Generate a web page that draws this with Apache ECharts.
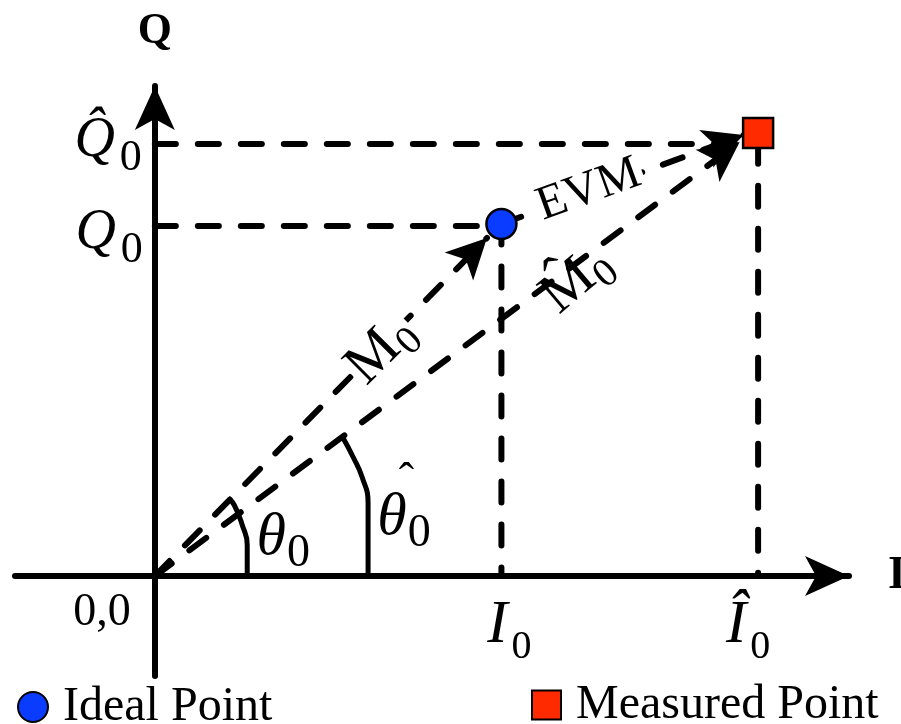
<!DOCTYPE html>
<html><head><meta charset="utf-8">
<script src="https://cdn.jsdelivr.net/npm/echarts@6/dist/echarts.min.js"></script>
<style>html,body{margin:0;padding:0;background:#fff}#c{width:901px;height:724px}</style>
</head><body><div id="c"></div>
<script>
const SERIF = "'Liberation Serif', 'Times New Roman', serif";

// ---- data (axis units) ----
const idealPoint = [3.47, 3.52];          // (I0, Q0) blue circle
const measuredPoint = [6.04, 4.43];       // (Î0, Q̂0) red square
const iTickValues = [3.47, 6.04];         // I0, Î0
const qTickValues = [3.50, 4.32];         // Q0, Q̂0
const iTickTexts = ['{it|I}{is|0}', '{it|Î}{is|0}'];
const qTickTexts = ['{qt|Q}{qs|0}', '{qt|Q\u0302}{qs|0}'];
const idealGuide = [[0, 3.50], [3.47, 3.50], [3.47, 0]];
const measuredGuide = [[0, 4.32], [6.04, 4.32], [6.04, 0]];
const vectorM0 = [[0, 0], [3.325, 3.38]];
const vectorM0hat = [[0, 0], [5.855, 4.34]];
const vectorEVM = [[3.47, 3.52], [5.895, 4.41]];
const theta0Arc = [[0.925, 0], [0.925, 0.31], [0.875, 0.51], [0.795, 0.71], [0.735, 0.78]];
const thetaHatArc = [[2.135, 0], [2.135, 0.73], [2.075, 0.99], [1.985, 1.19], [1.885, 1.38]];
const seriesNames = ['Ideal Point', 'Measured Point'];

const dash = { color: '#000', width: 6, type: [21, 22], cap: 'round' };

const rich = {
  it: { fontFamily: SERIF, fontStyle: 'italic', fontSize: 61, lineHeight: 61, verticalAlign: 'top', color: '#000' },
  is: { fontFamily: SERIF, fontSize: 40, lineHeight: 40, verticalAlign: 'top', padding: [32, 0, 0, 4], color: '#000' },
  qt: { fontFamily: SERIF, fontStyle: 'italic', fontSize: 56, lineHeight: 56, verticalAlign: 'top', color: '#000' },
  qs: { fontFamily: SERIF, fontSize: 44, lineHeight: 44, verticalAlign: 'top', padding: [23, 0, 0, 5], color: '#000' },
  th: { fontFamily: SERIF, fontStyle: 'italic', fontSize: 60, lineHeight: 60, verticalAlign: 'top', color: '#000' },
  ts: { fontFamily: SERIF, fontSize: 46, lineHeight: 46, verticalAlign: 'top', padding: [22, 0, 0, 1], color: '#000' },
  hat: { fontFamily: SERIF, fontSize: 46, lineHeight: 46, color: '#000' },
  m: { fontFamily: SERIF, fontSize: 58, lineHeight: 58, verticalAlign: 'top', color: '#000' },
  ms: { fontFamily: SERIF, fontSize: 40, lineHeight: 40, verticalAlign: 'top', padding: [24, 0, 0, 1], color: '#000' },
  e: { fontFamily: SERIF, fontSize: 48, lineHeight: 48, color: '#000' },
  o: { fontFamily: SERIF, fontSize: 46, lineHeight: 46, color: '#000' }
};

function lbl(value, text, extra) {
  return { value: value, label: Object.assign({ show: true, formatter: text, rich: rich, position: 'inside', color: '#000', opacity: 1 }, extra) };
}

const labelData = [
  lbl([iTickValues[0], 0], iTickTexts[0], { position: 'bottom', distance: 19, offset: [8, 0] }),
  lbl([iTickValues[1], 0], iTickTexts[1], { position: 'bottom', distance: 19, offset: [-10, 0] }),
  lbl([0, qTickValues[0]], qTickTexts[0], { position: 'left', distance: 12, offset: [0, 7] }),
  lbl([0, qTickValues[1]], qTickTexts[1], { position: 'left', distance: 13, offset: [0, -3] }),
  lbl([0, 0], '{o|0,0}', { position: 'left', distance: 24, offset: [0, 37] }),
  lbl([1.285, 0.375], '{th|θ}{ts|0}', {}),
  lbl([2.495, 0.575], '{th|θ}{ts|0}', {}),
  lbl([2.52, 0.93], '{hat|ˆ}', {}),
  lbl([2.265, 2.26], '{m|M}{ms|0}', { rotate: 45, backgroundColor: '#fff', padding: [0, 2] }),
  lbl([4.225, 2.96], '{m|M\u0302}{ms|0}', { rotate: 40 }),
  lbl([4.345, 3.86], '{e|EVM}', { rotate: 20, backgroundColor: '#fff', padding: [0, 3] })
];

const chart = echarts.init(document.getElementById('c'), null, { renderer: 'canvas' });
chart.setOption({
  animation: false,
  backgroundColor: '#fff',
  grid: { left: 15, right: 52, top: 86, bottom: 48, containLabel: false, outerBoundsMode: 'none' },
  xAxis: {
    type: 'value', min: -1.4, max: 6.95,
    name: 'I', nameLocation: 'end', nameGap: 39,
    nameTextStyle: { fontFamily: SERIF, fontWeight: 'bold', fontSize: 46, color: '#000', padding: [0, 0, 10, 0] },
    axisLine: { show: true, onZero: true, symbol: ['none', 'arrow'], symbolSize: [30, 44], lineStyle: { color: '#000', width: 6 } },
    axisTick: { show: false }, axisLabel: { show: false }, splitLine: { show: false }
  },
  yAxis: {
    type: 'value', min: -1.0, max: 4.9,
    name: 'Q', nameLocation: 'end', nameGap: 32,
    nameTextStyle: { fontFamily: SERIF, fontWeight: 'bold', fontSize: 44, color: '#000', align: 'center' },
    axisLine: { show: true, onZero: true, symbol: ['none', 'arrow'], symbolSize: [30, 44], lineStyle: { color: '#000', width: 6 } },
    axisTick: { show: false }, axisLabel: { show: false }, splitLine: { show: false }
  },
  legend: [
    { data: [seriesNames[0]], left: 17, top: 683, padding: 0, itemWidth: 30, itemHeight: 30,
      textStyle: { fontFamily: SERIF, fontSize: 48, color: '#000', padding: [0, 0, 0, 10] } },
    { data: [seriesNames[1]], left: 531, top: 681, padding: 0, itemWidth: 29, itemHeight: 29,
      textStyle: { fontFamily: SERIF, fontSize: 48, color: '#000', padding: [0, 0, 0, 10] } }
  ],
  series: [
    { type: 'line', name: 'guideIdeal', data: idealGuide, symbol: 'none', silent: true, lineStyle: dash, z: 2 },
    { type: 'line', name: 'guideMeasured', data: measuredGuide, symbol: 'none', silent: true, lineStyle: dash, z: 2 },
    { type: 'line', name: 'arc0', data: theta0Arc, symbol: 'none', smooth: 0.5, silent: true, lineStyle: { color: '#000', width: 5 }, z: 3 },
    { type: 'line', name: 'arcHat', data: thetaHatArc, symbol: 'none', smooth: 0.5, silent: true, lineStyle: { color: '#000', width: 5 }, z: 3 },
    {
      type: 'line', name: 'vectors', data: [], symbol: 'none', silent: true, z: 4,
      markLine: {
        silent: true, animation: false,
        symbol: ['none', 'arrow'], symbolSize: [30, 40],
        label: { show: false },
        lineStyle: dash,
        emphasis: { disabled: true },
        data: [
          [{ coord: vectorM0[0] }, { coord: vectorM0[1] }],
          [{ coord: vectorM0hat[0] }, { coord: vectorM0hat[1] }],
          [{ coord: vectorEVM[0] }, { coord: vectorEVM[1] }]
        ]
      }
    },
    { type: 'scatter', name: 'labels', data: labelData, symbolSize: 0, silent: true, z: 6,
      itemStyle: { opacity: 1 }, emphasis: { disabled: true } },
    { type: 'scatter', name: seriesNames[0], data: [idealPoint], symbol: 'circle', symbolSize: 30, z: 8,
      itemStyle: { color: '#0a3cff', borderColor: '#000', borderWidth: 2.5, opacity: 1 } },
    { type: 'scatter', name: seriesNames[1], data: [measuredPoint], symbol: 'rect', symbolSize: 30, z: 8,
      itemStyle: { color: '#ff2a00', borderColor: '#000', borderWidth: 2.5, opacity: 1 } }
  ]
});
</script></body></html>
